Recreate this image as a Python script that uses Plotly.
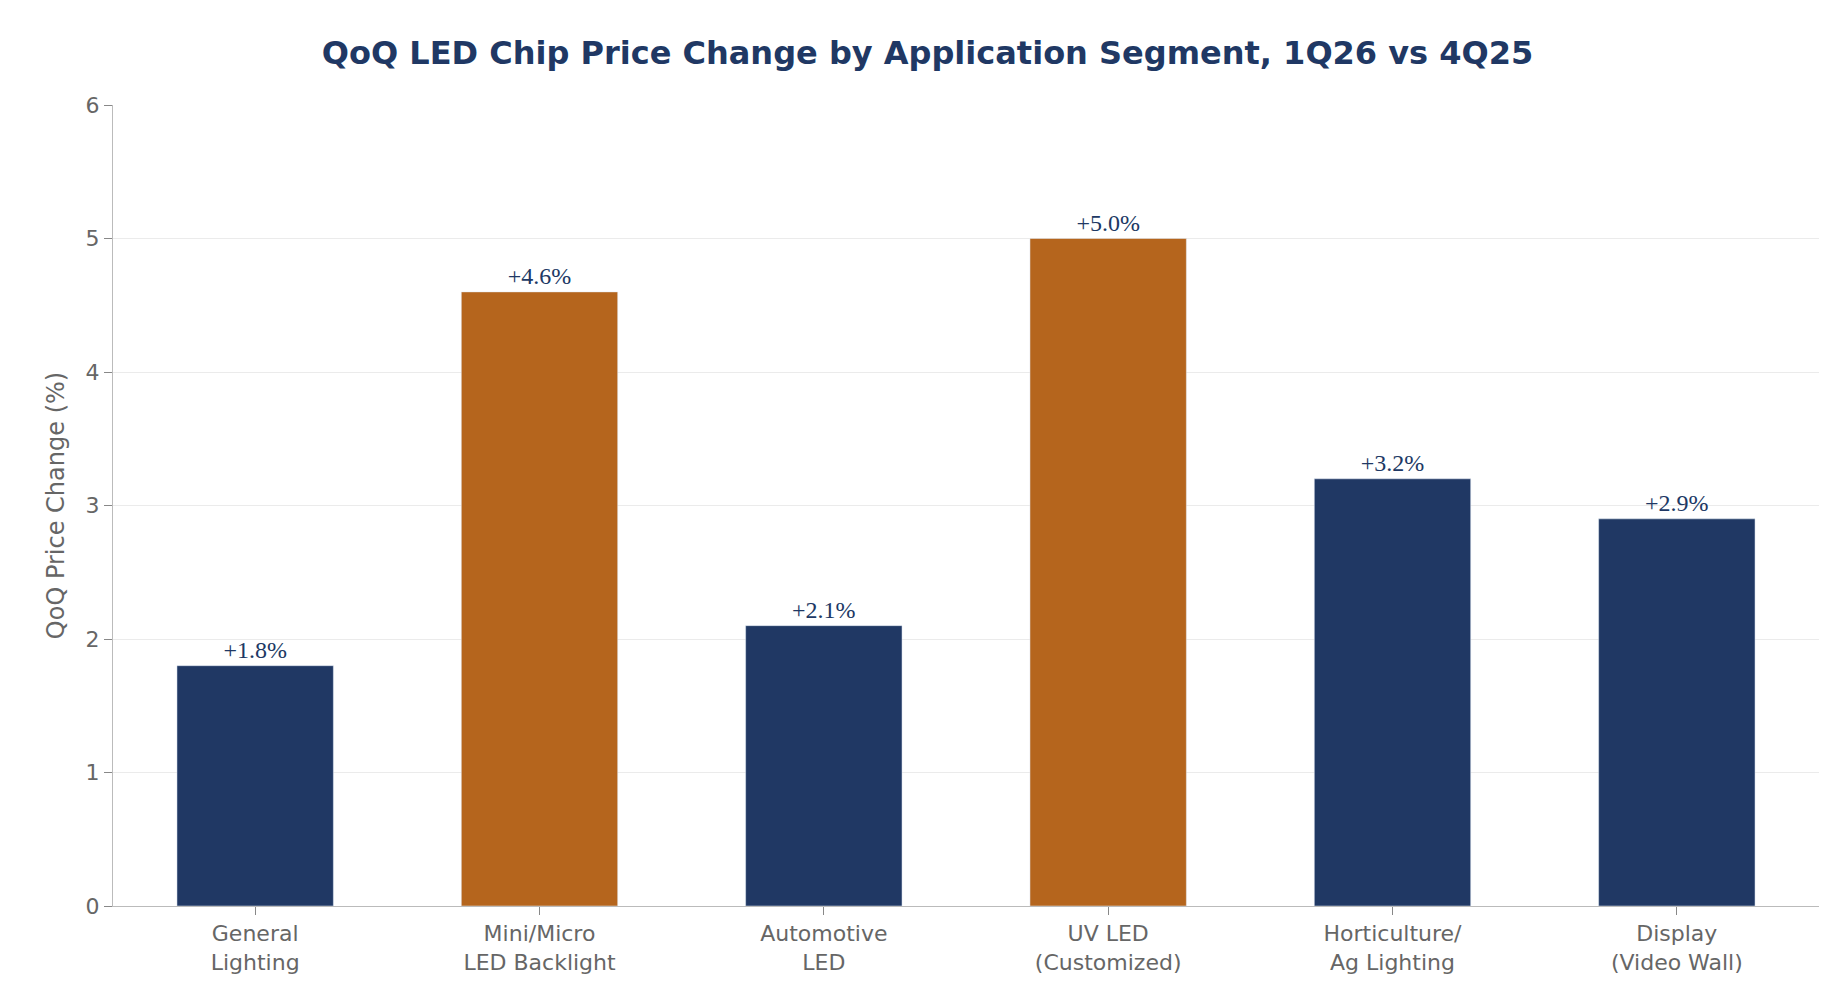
import plotly.graph_objects as go

categories = ["General<br>Lighting", "Mini/Micro<br>LED Backlight", "Automotive<br>LED", "UV LED<br>(Customized)", "Horticulture/<br>Ag Lighting", "Display<br>(Video Wall)"]
values = [1.8, 4.6, 2.1, 5.0, 3.2, 2.9]
highlight = [False, True, False, True, False, False]
NAVY = "#203864"
ORANGE = "#B5651D"
colors = [ORANGE if h else NAVY for h in highlight]
labels = [f"+{v:.1f}%" for v in values]

fig = go.Figure(go.Bar(x=categories, y=values, marker_color=colors, width=0.55,
                       text=labels, textposition="outside", cliponaxis=False,
                       textfont=dict(size=24, color=NAVY, family="DejaVu Sans Bold")))
fig.update_layout(
    width=1839, height=1000, plot_bgcolor="white", paper_bgcolor="white",
    margin=dict(l=105, r=28, t=97, b=102),
    font=dict(family="DejaVu Sans", color="#666666"),
    title=dict(text="<b>QoQ LED Chip Price Change by Application Segment, 1Q26 vs 4Q25</b>",
               x=0.5, xanchor="center", y=0.955, yanchor="middle",
               font=dict(size=32, color=NAVY)),
    showlegend=False, bargap=0.45,
)
fig.update_yaxes(range=[0, 6], dtick=1, showgrid=True, gridcolor="#ebebeb",
                 showline=True, linecolor="#bbbbbb", ticks="outside", ticklen=8,
                 tickcolor="#888888", tickfont=dict(size=22), zeroline=False,
                 title=dict(text="QoQ Price Change (%)", font=dict(size=24), standoff=14))
fig.update_xaxes(showline=True, linecolor="#bbbbbb", ticks="outside", ticklen=8,
                 tickcolor="#888888", tickfont=dict(size=22))
fig.write_html("out.html")
